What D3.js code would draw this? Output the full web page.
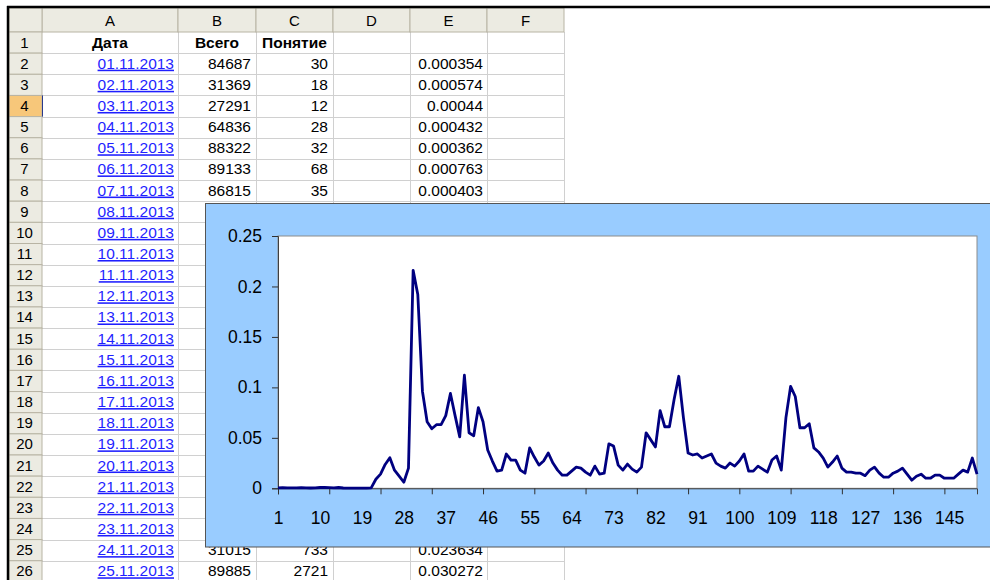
<!DOCTYPE html>
<html>
<head>
<meta charset="utf-8">
<script src="https://cdnjs.cloudflare.com/ajax/libs/d3/7.8.5/d3.min.js"></script>
<style>
  body { margin: 0; background: #fff; }
  svg { display: block; font-family: "Liberation Sans", Arial, sans-serif; }
</style>
</head>
<body>
<svg width="990" height="580"></svg>
<script>
// sheet contents (rows 2..26), null = hidden under the chart
var columns = ["A", "B", "C", "D", "E", "F"];
var headers = ["Дата", "Всего", "Понятие"];
var dates = ["01.11.2013", "02.11.2013", "03.11.2013", "04.11.2013", "05.11.2013",
  "06.11.2013", "07.11.2013", "08.11.2013", "09.11.2013", "10.11.2013", "11.11.2013",
  "12.11.2013", "13.11.2013", "14.11.2013", "15.11.2013", "16.11.2013", "17.11.2013",
  "18.11.2013", "19.11.2013", "20.11.2013", "21.11.2013", "22.11.2013", "23.11.2013",
  "24.11.2013", "25.11.2013"];
var totals = [84687, 31369, 27291, 64836, 88322, 89133, 86815,
  null, null, null, null, null, null, null, null, null, null, null, null, null, null, null, null,
  31015, 89885];
var counts = [30, 18, 12, 28, 32, 68, 35,
  null, null, null, null, null, null, null, null, null, null, null, null, null, null, null, null,
  733, 2721];
var ratios = ["0.000354", "0.000574", "0.00044", "0.000432", "0.000362", "0.000763", "0.000403",
  null, null, null, null, null, null, null, null, null, null, null, null, null, null, null, null,
  "0.023634", "0.030272"];

// chart series (column E, 151 days)
var series = [
  0.000354, 0.000574, 0.00044, 0.000432, 0.000362, 0.000763, 0.000403, 0.0003, 0.0004, 0.0008,
  0.0009, 0.0007, 0.0004, 0.0008, 0.0003, 0.0002, 0.0002, 0.0002, 0.0002, 0.0001,
  0.0004, 0.009, 0.014, 0.023634, 0.030272, 0.018, 0.012, 0.006, 0.020, 0.216,
  0.192, 0.096, 0.066, 0.059, 0.063, 0.063, 0.072, 0.094, 0.072, 0.051,
  0.112, 0.055, 0.052, 0.080, 0.066, 0.038, 0.027, 0.017, 0.018, 0.034,
  0.028, 0.028, 0.018, 0.015, 0.040, 0.031, 0.023, 0.027, 0.035, 0.025,
  0.018, 0.013, 0.013, 0.017, 0.021, 0.020, 0.016, 0.013, 0.022, 0.014,
  0.015, 0.044, 0.042, 0.023, 0.018, 0.024, 0.019, 0.016, 0.021, 0.055,
  0.048, 0.041, 0.077, 0.061, 0.061, 0.088, 0.111, 0.070, 0.035, 0.033,
  0.034, 0.030, 0.032, 0.034, 0.025, 0.022, 0.020, 0.025, 0.022, 0.027,
  0.034, 0.017, 0.017, 0.022, 0.019, 0.016, 0.028, 0.032, 0.018, 0.070,
  0.101, 0.091, 0.060, 0.060, 0.064, 0.040, 0.036, 0.030, 0.021, 0.026,
  0.032, 0.020, 0.016, 0.016, 0.015, 0.015, 0.0125, 0.018, 0.021, 0.015,
  0.011, 0.011, 0.015, 0.017, 0.020, 0.014, 0.008, 0.012, 0.014, 0.010,
  0.010, 0.013, 0.013, 0.010, 0.010, 0.010, 0.014, 0.018, 0.016, 0.030,
  0.014
];
var yTicks = [0, 0.05, 0.1, 0.15, 0.2, 0.25];
var yTickLabels = ["0", "0.05", "0.1", "0.15", "0.2", "0.25"];
var labelStep = 9, tickStep = 11;

var svg = d3.select("svg");

// ---- spreadsheet ----
var colEdges = [9, 42, 178, 256, 333, 410, 487, 564],
    headTop = 8, headBottom = 32, rowH = 21.15, nRows = 26;

var rowY = d3.scaleLinear().domain([0, nRows]).range([headBottom, headBottom + nRows * rowH]);

var sheet = svg.append("g").attr("class", "sheet");

// grid
sheet.selectAll(".hline")
  .data(d3.range(1, nRows + 1))
  .enter().append("line")
    .attr("x1", colEdges[1]).attr("x2", colEdges[7])
    .attr("y1", function(d) { return Math.round(rowY(d)) + 0.5; })
    .attr("y2", function(d) { return Math.round(rowY(d)) + 0.5; })
    .attr("stroke", "#d0d0d0");
sheet.selectAll(".vline")
  .data(colEdges.slice(2))
  .enter().append("line")
    .attr("x1", function(d) { return d + 0.5; }).attr("x2", function(d) { return d + 0.5; })
    .attr("y1", headBottom).attr("y2", 580)
    .attr("stroke", "#d0d0d0");

// column headers
var colHead = sheet.selectAll(".colhead")
  .data(columns)
  .enter().append("g")
    .attr("class", "colhead");
colHead.append("rect")
    .attr("x", function(d, i) { return colEdges[i + 1]; })
    .attr("y", headTop)
    .attr("width", function(d, i) { return colEdges[i + 2] - colEdges[i + 1]; })
    .attr("height", headBottom - headTop)
    .attr("fill", "#ecebe2")
    .attr("stroke", "#b8b4a4");
colHead.append("text")
    .attr("x", function(d, i) { return (colEdges[i + 1] + colEdges[i + 2]) / 2; })
    .attr("y", 25.5)
    .attr("text-anchor", "middle")
    .style("font-size", "15px")
    .text(function(d) { return d; });

// corner + row headers
sheet.append("rect")
    .attr("x", colEdges[0]).attr("y", headTop)
    .attr("width", colEdges[1] - colEdges[0]).attr("height", headBottom - headTop)
    .attr("fill", "#ecebe2").attr("stroke", "#b8b4a4");

var rowHead = sheet.selectAll(".rowhead")
  .data(d3.range(1, nRows + 1))
  .enter().append("g")
    .attr("class", "rowhead");
rowHead.append("rect")
    .attr("x", colEdges[0])
    .attr("y", function(d) { return rowY(d - 1); })
    .attr("width", colEdges[1] - colEdges[0])
    .attr("height", rowH)
    .attr("fill", function(d) { return d === 4 ? "#f7c77a" : "#ecebe2"; })
    .attr("stroke", "#b8b4a4");
rowHead.append("text")
    .attr("x", (colEdges[0] + colEdges[1]) / 2 - 1)
    .attr("y", function(d) { return rowY(d - 1) + 15.5; })
    .attr("text-anchor", "middle")
    .style("font-size", "15px")
    .text(function(d) { return d; });
sheet.append("line")
    .attr("x1", colEdges[1] + 0.5).attr("x2", colEdges[1] + 0.5)
    .attr("y1", rowY(3)).attr("y2", rowY(4))
    .attr("stroke", "#2a3a8c");

// row 1 titles
sheet.selectAll(".title")
  .data(headers)
  .enter().append("text")
    .attr("x", function(d, i) { return (colEdges[i + 1] + colEdges[i + 2]) / 2; })
    .attr("y", rowY(0) + 15.5)
    .attr("text-anchor", "middle")
    .style("font-size", "15.5px")
    .style("font-weight", "bold")
    .text(function(d) { return d; });

// data cells
var cells = sheet.selectAll(".row")
  .data(dates)
  .enter().append("g")
    .attr("class", "row")
    .attr("transform", function(d, i) { return "translate(0," + (rowY(i + 1) + 15.5) + ")"; })
    .style("font-size", "15.5px")
    .attr("text-anchor", "end");
cells.append("text")
    .attr("x", colEdges[2] - 4)
    .attr("fill", "#1f1fff")
    .style("text-decoration", "underline")
    .text(function(d) { return d; });
cells.append("text")
    .attr("x", colEdges[3] - 5)
    .text(function(d, i) { return totals[i] === null ? "" : totals[i]; });
cells.append("text")
    .attr("x", colEdges[4] - 5)
    .text(function(d, i) { return counts[i] === null ? "" : counts[i]; });
cells.append("text")
    .attr("x", colEdges[6] - 4)
    .text(function(d, i) { return ratios[i] === null ? "" : ratios[i]; });

// thick outer border
sheet.append("line").attr("x1", 7).attr("x2", 990).attr("y1", 7).attr("y2", 7)
    .attr("stroke", "#000").attr("stroke-width", 2.5);
sheet.append("line").attr("x1", 8).attr("x2", 8).attr("y1", 6).attr("y2", 580)
    .attr("stroke", "#000").attr("stroke-width", 2.5);

// ---- chart ----
var plot = {left: 278, right: 977, top: 236, bottom: 488.3};

var chart = svg.append("g").attr("class", "chart");
chart.append("rect")
    .attr("x", 205.5).attr("y", 203.5)
    .attr("width", 800).attr("height", 343.5)
    .attr("fill", "#99ccff")
    .attr("stroke", "#555");
chart.append("rect")
    .attr("x", plot.left).attr("y", plot.top)
    .attr("width", plot.right - plot.left).attr("height", plot.bottom - plot.top)
    .attr("fill", "#fff")
    .attr("stroke", "#8c8c8c");

var days = d3.range(1, series.length + 1);
var x = d3.scalePoint().domain(days).range([plot.left, plot.right]),
    y = d3.scaleLinear().domain([0, 0.25]).range([plot.bottom, plot.top]);

var yAxis = chart.append("g")
    .attr("transform", "translate(" + plot.left + ",0)")
    .call(d3.axisLeft(y).tickValues(yTicks)
      .tickFormat(function(d, i) { return yTickLabels[i]; })
      .tickSize(6).tickPadding(10));

var xTicks = chart.append("g")
    .attr("transform", "translate(0," + plot.bottom + ")")
    .call(d3.axisBottom(x)
      .tickValues(days.filter(function(d) { return (d - 1) % tickStep === 0; }))
      .tickFormat("").tickSize(6));

var xLabels = chart.append("g")
    .attr("transform", "translate(0," + plot.bottom + ")")
    .call(d3.axisBottom(x)
      .tickValues(days.filter(function(d) { return (d - 1) % labelStep === 0; }))
      .tickSize(0).tickPadding(23));
xLabels.select(".domain").remove();

chart.selectAll(".domain").attr("stroke", "#404040");
chart.selectAll(".tick line").attr("stroke", "#303030");
chart.selectAll(".tick text")
    .attr("fill", "#000")
    .style("font-size", "17.5px")
    .style("font-family", "'Liberation Sans', Arial, sans-serif");

var line = d3.line()
    .x(function(d, i) { return x(i + 1); })
    .y(function(d) { return y(d); });

chart.append("path")
    .datum(series)
    .attr("fill", "none")
    .attr("stroke", "#000080")
    .attr("stroke-width", 2.8)
    .attr("stroke-linejoin", "round")
    .attr("d", line);
</script>
</body>
</html>
